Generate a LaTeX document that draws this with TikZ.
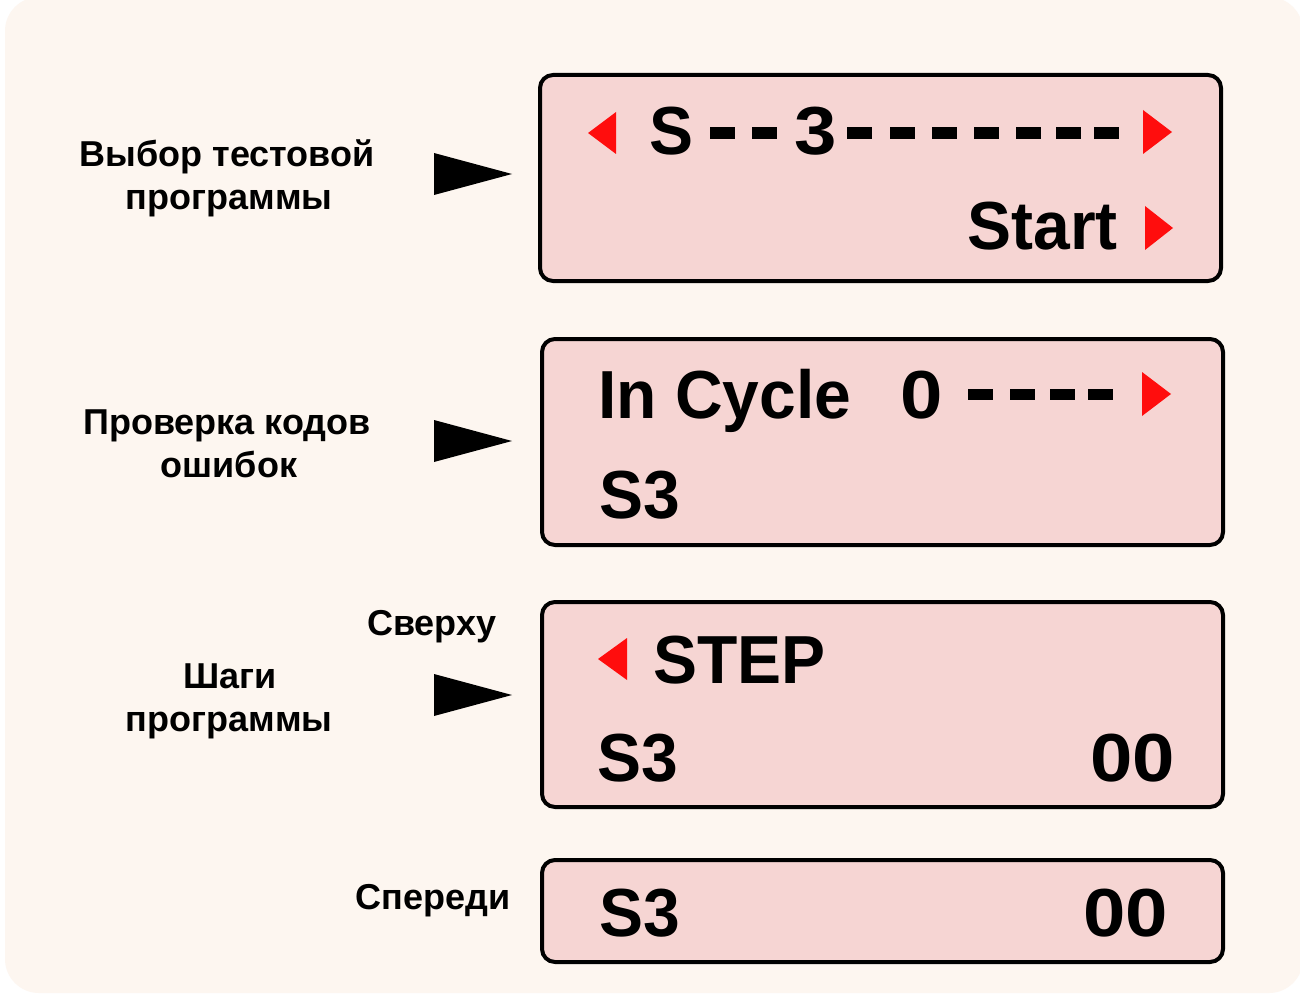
\documentclass[tikz,border=0pt]{standalone}
\usepackage{fontspec}
\setmainfont{Liberation Sans}
\newfontfamily\lcdfont{Liberation Sans Bold}[FakeStretch=0.97]
\newfontfamily\lcddigits{Liberation Sans Bold}[FakeStretch=1.12]
\definecolor{cream}{HTML}{FDF6F0}
\definecolor{lcdpink}{HTML}{F6D5D3}
\definecolor{lcdred}{HTML}{FF0D0D}
\tikzset{
  lcdbox/.style={draw=black, line width=4pt, rounded corners=13pt, fill=lcdpink},
  lcdtext/.style={inner sep=0pt, font=\lcdfont\fontsize{68}{80}\selectfont},
  lcdnum/.style={inner sep=0pt, font=\lcddigits\fontsize{68}{80}\selectfont},
  lbl/.style={inner sep=0pt, anchor=base, font=\bfseries\fontsize{36}{44}\selectfont},
  redtri/.style={fill=lcdred},
  pointer/.style={fill=black},
  dashseg/.style={fill=black}
}
\begin{document}
\begin{tikzpicture}[x=1pt,y=-1pt]
\useasboundingbox (0,0) rectangle (1300,1000);
\fill[white] (0,0) rectangle (1300,1000);
\fill[cream, rounded corners=34pt] (5,-3) rectangle (1303,993);

% boxes
\draw[lcdbox] (540,75) rectangle (1221,281);
\draw[lcdbox] (542,339) rectangle (1223,545);
\draw[lcdbox] (542,602) rectangle (1223,807);
\draw[lcdbox] (542,860) rectangle (1223,962);

% box 1
\fill[redtri] (588,133) -- (616,112) -- (616,154) -- cycle;
\node[lcdtext, anchor=base west] (s1) at (649,155) {S};
\foreach \x in {710,752} \fill[dashseg] (\x,127) rectangle ++(25,12);
\node[lcdnum, anchor=base west] (three) at (794,155) {3};
\foreach \x in {847,890,932,974,1016,1056,1094} \fill[dashseg] (\x,127) rectangle ++(25,12);
\fill[redtri] (1172,132) -- (1143,110) -- (1143,154) -- cycle;
\node[lcdtext, anchor=base east] (start) at (1118,250) {Start};
\fill[redtri] (1173,228) -- (1145,206) -- (1145,250) -- cycle;

% box 2
\node[lcdtext, anchor=base west] (incycle) at (598,418) {In Cycle};
\node[lcdnum, anchor=base west] (zero) at (900,418) {0};
\foreach \x in {968,1010,1050,1088} \fill[dashseg] (\x,389) rectangle ++(25,11);
\fill[redtri] (1171,394) -- (1142,372) -- (1142,416) -- cycle;
\node[lcdtext, anchor=base west] (s3b) at (599,518) {S3};

% box 3
\fill[redtri] (598,659) -- (627,638) -- (627,680) -- cycle;
\node[lcdtext, anchor=base west] (step) at (653,683) {STEP};
\node[lcdtext, anchor=base west] (s3c) at (597,781) {S3};
\node[lcdnum, anchor=base east] (ooc) at (1175,781) {00};

% box 4
\node[lcdtext, anchor=base west] (s3d) at (599,936) {S3};
\node[lcdnum, anchor=base east] (ood) at (1168,936) {00};

% labels
\node[lbl] (l1a) at (227,167) {Выбор тестовой};
\node[lbl] (l1b) at (229,210) {программы};
\node[lbl] (l2a) at (227,434) {Проверка кодов};
\node[lbl] (l2b) at (229,477) {ошибок};
\node[lbl] (l3top) at (432,635) {Сверху};
\node[lbl] (l3a) at (230,688) {Шаги};
\node[lbl] (l3b) at (229,731) {программы};
\node[lbl] (l4) at (433,909) {Спереди};

% pointers
\fill[pointer] (434,153) -- (512,174) -- (434,195) -- cycle;
\fill[pointer] (434,420) -- (512,441) -- (434,462) -- cycle;
\fill[pointer] (434,674) -- (512,695) -- (434,716) -- cycle;
\end{tikzpicture}
\end{document}
